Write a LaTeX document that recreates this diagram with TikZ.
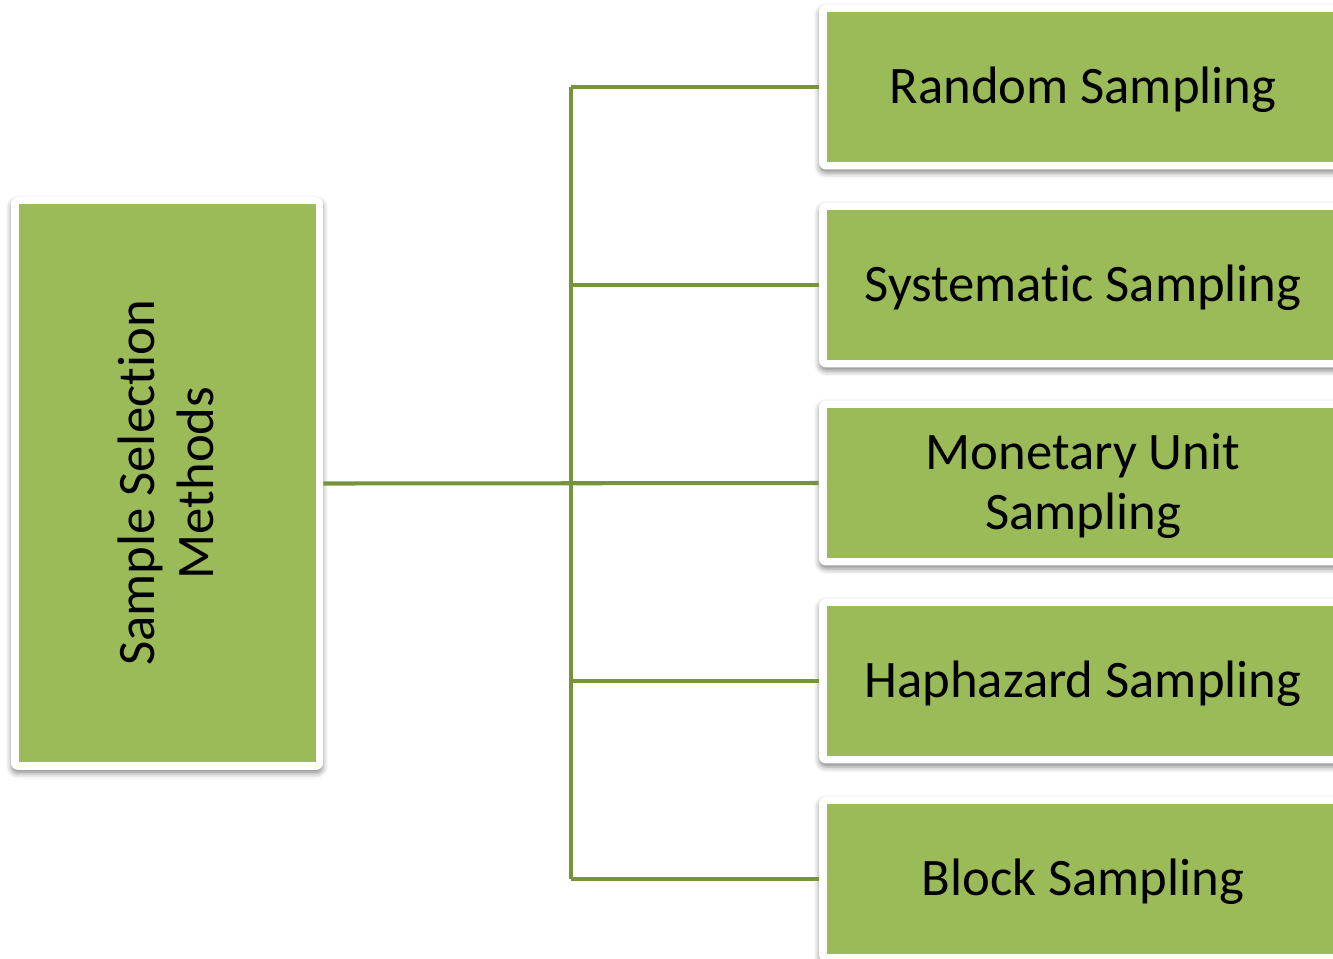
\documentclass[tikz,border=0pt]{standalone}
\usepackage{fontspec}
\setmainfont{Carlito}[RawFeature={-liga;-clig;-dlig}]
\usetikzlibrary{shadows.blur}
\definecolor{boxgreen}{HTML}{9BBB59}
\definecolor{linegreen}{HTML}{77933C}
\newcommand\nolig{\kern0pt }
\begin{document}
\begin{tikzpicture}[x=0.02cm,y=-0.02cm,
  frame/.style={draw=none,fill=white,rounded corners=4pt,inner sep=0pt,
    blur shadow={shadow xshift=0pt,shadow yshift=-2pt,shadow blur radius=3pt,shadow opacity=45}},
  lframe/.style={frame,minimum width=6.24cm,minimum height=11.46cm},
  rframe/.style={frame,minimum width=10.58cm,minimum height=3.30cm},
  gbox/.style={fill=boxgreen,draw=none,inner sep=0pt},
  lbox/.style={gbox,minimum width=5.94cm,minimum height=11.16cm},
  rbox/.style={gbox,minimum width=10.26cm,minimum height=3.00cm},
  btext/.style={text=black,align=center,inner sep=0pt,font=\fontsize{30}{34}\selectfont},
  conn/.style={draw=linegreen,line width=2.3pt}]
\useasboundingbox (0,0) rectangle (1333,958);
% left box
\node[lframe] (lf) at (167,483.5) {};
\node[lbox] (lb) at (167.5,483) {};
\node[btext,rotate=90] (lt) at (166,483) {Sample Select\nolig ion\\Methods};
% right boxes
\foreach \i/\t in {1/{Random Sampling},2/{Systemat\nolig ic Sampling},3/{Monetary Unit\\Sampling},4/{Haphazard Sampling},5/{Block Sampling}}{
  \node[rframe] (rf\i) at (1083.5,{87+198*(\i-1)}) {};
  \node[rbox] (rb\i) at (1083.5,{87+198*(\i-1)}) {};
  \node[btext] (rt\i) at (1083,{90+198*(\i-1)}) {\t};
}
% junctions
\foreach \i in {1,...,5}{
  \coordinate (j\i) at (571,{87+198*(\i-1)});
}
\draw[conn] (j1) -- (j5);
\foreach \i in {1,2,4,5}{
  \draw[conn] (j\i) -- (rf\i.west);
}
\draw[conn] (lf.east) -- (rf3.west);
\end{tikzpicture}
\end{document}
